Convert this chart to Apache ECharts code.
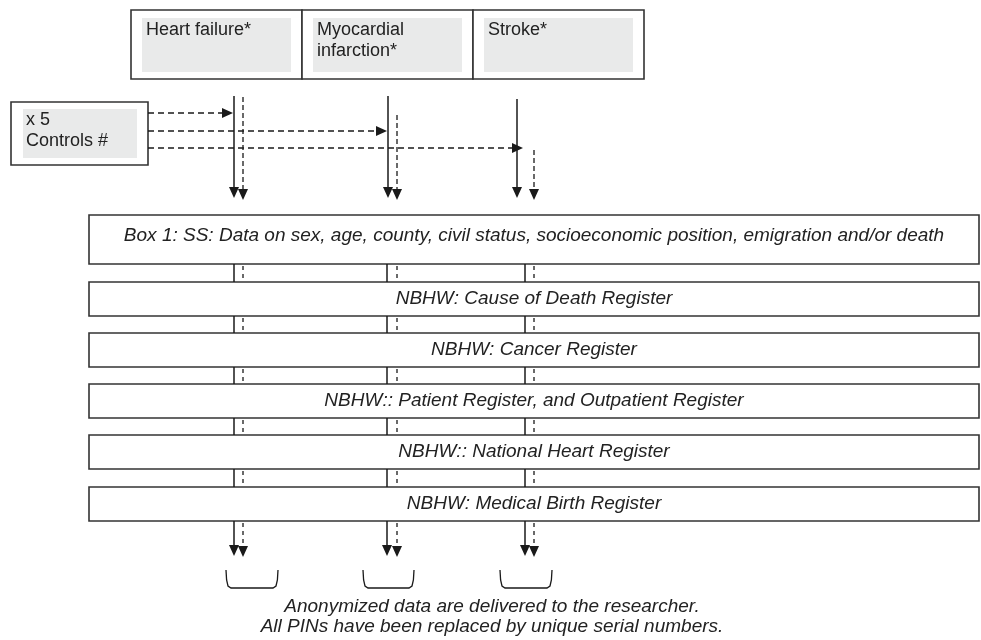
<!DOCTYPE html>
<html><head><meta charset="utf-8">
<script src="https://cdn.jsdelivr.net/npm/echarts@6/dist/echarts.min.js"></script>
<style>html,body{margin:0;padding:0;background:#fff}#chart{width:981px;height:640px}</style>
</head><body><div id="chart"></div>
<script>
// ---------- data ----------
const outcomes = ['Heart failure*', 'Myocardial\ninfarction*', 'Stroke*'];
const controlsLabel = ['x 5', 'Controls #'];
const registers = [
  'Box 1: SS: Data on sex, age, county, civil status, socioeconomic position, emigration and/or death',
  'NBHW: Cause of Death Register',
  'NBHW: Cancer Register',
  'NBHW:: Patient Register, and Outpatient Register',
  'NBHW:: National Heart Register',
  'NBHW: Medical Birth Register'
];
const footnote = [
  'Anonymized data are delivered to the researcher.',
  'All PINs have been replaced by unique serial numbers.'
];

// ---------- layout (diagram units on a 981 x 640 value grid) ----------
const LAYOUT = {
  top: { x: 131, y0: 10, y1: 79, cellW: 171, grayDx0: 11, grayDx1: 160, grayY0: 18, grayY1: 72, textDx: 15, textY: 30.5, lineH: 21 },
  ctrl: { x0: 11, x1: 148, y0: 102, y1: 165, gx0: 23, gx1: 137, gy0: 109, gy1: 158, textX: 26, textY: 120.5, lineH: 21 },
  ctrlRowsY: [113, 131, 148],
  ctrlTipX: [233, 387, 523],
  laneTopSolidX: [234, 388, 517],
  laneTopSolidY0: [96, 96, 99],
  laneTopDashX: [243, 397, 534],
  laneTopDashY0: [97, 115, 150],
  laneTipY: 200,
  laneSolidX: [234, 387, 525],
  laneDashX: [243, 397, 534],
  regX0: 89, regX1: 979, regTextX: 534,
  regY0: [215, 282, 333, 384, 435, 487],
  regY1: [264, 316, 367, 418, 469, 521],
  regTextY: [236, 299, 350, 401, 452, 504],
  outTipY: 557,
  brX0: [226, 363, 500], brX1: [278, 414, 552], brY0: 570, brY1: 588,
  footX: 492, footY: [606.5, 626.5]
};

const FONT = '"Liberation Sans", Arial, Helvetica, sans-serif';
const INK = '#1a1a1a';
const BOX = '#333333';
const GRAY = '#e9eaea';

function P(api, x, y) { return api.coord([x, y]); }
function rectEl(api, x0, y0, x1, y1, style) {
  const a = P(api, x0, y0), b = P(api, x1, y1);
  return { type: 'rect', shape: { x: a[0], y: a[1], width: b[0] - a[0], height: b[1] - a[1] }, style: style };
}
function lineEl(api, x0, y0, x1, y1, style) {
  const a = P(api, x0, y0), b = P(api, x1, y1);
  return { type: 'line', shape: { x1: a[0], y1: a[1], x2: b[0], y2: b[1] }, style: style };
}
function textEl(api, x, y, text, opts) {
  const a = P(api, x, y);
  return { type: 'text', style: Object.assign({ x: a[0], y: a[1], text: text, fill: '#222', font: '18px ' + FONT, align: 'left', verticalAlign: 'middle' }, opts || {}) };
}
function downHead(api, x, tipY) {
  const pts = [P(api, x - 5, tipY - 11), P(api, x + 5, tipY - 11), P(api, x, tipY)];
  return { type: 'polygon', shape: { points: pts }, style: { fill: INK } };
}
function rightHead(api, tipX, y) {
  const pts = [P(api, tipX - 11, y - 5), P(api, tipX - 11, y + 5), P(api, tipX, y)];
  return { type: 'polygon', shape: { points: pts }, style: { fill: INK } };
}
const SOLID = { stroke: INK, lineWidth: 1.5 };
const DASH_V = { stroke: INK, lineWidth: 1.3, lineDash: [5, 3] };
const DASH_H = { stroke: INK, lineWidth: 1.3, lineDash: [6, 4] };
const DASH_C = { stroke: INK, lineWidth: 1.3, lineDash: [4, 4] };

function idx(arr) { return arr.map(function (_, i) { return [i]; }); }

const series = [
  { // outcome cells on top
    type: 'custom', data: idx(outcomes),
    renderItem: function (p, api) {
      const i = api.value(0), T = LAYOUT.top, x0 = T.x + i * T.cellW, x1 = x0 + T.cellW;
      const ch = [
        rectEl(api, x0, T.y0, x1, T.y1, { fill: '#fff', stroke: BOX, lineWidth: 1.6 }),
        rectEl(api, x0 + T.grayDx0, T.grayY0, x0 + T.grayDx1, T.grayY1, { fill: GRAY })
      ];
      outcomes[i].split('\n').forEach(function (t, k) {
        ch.push(textEl(api, x0 + T.textDx, T.textY + k * T.lineH, t));
      });
      return { type: 'group', children: ch };
    }
  },
  { // controls box
    type: 'custom', data: [[0]],
    renderItem: function (p, api) {
      const C = LAYOUT.ctrl;
      const ch = [
        rectEl(api, C.x0, C.y0, C.x1, C.y1, { fill: '#fff', stroke: BOX, lineWidth: 1.6 }),
        rectEl(api, C.gx0, C.gy0, C.gx1, C.gy1, { fill: GRAY })
      ];
      controlsLabel.forEach(function (t, k) { ch.push(textEl(api, C.textX, C.textY + k * C.lineH, t)); });
      return { type: 'group', children: ch };
    }
  },
  { // lanes from outcomes down to box 1, plus control arrows
    type: 'custom', data: idx(outcomes),
    renderItem: function (p, api) {
      const i = api.value(0), L = LAYOUT;
      const tip = L.laneTipY;
      return { type: 'group', children: [
        lineEl(api, L.laneTopSolidX[i], L.laneTopSolidY0[i], L.laneTopSolidX[i], tip - 8, SOLID),
        downHead(api, L.laneTopSolidX[i], tip - 2),
        lineEl(api, L.laneTopDashX[i], L.laneTopDashY0[i], L.laneTopDashX[i], tip - 8, DASH_V),
        downHead(api, L.laneTopDashX[i], tip),
        lineEl(api, L.ctrl.x1, L.ctrlRowsY[i], L.ctrlTipX[i] - 8, L.ctrlRowsY[i], DASH_H),
        rightHead(api, L.ctrlTipX[i], L.ctrlRowsY[i])
      ] };
    }
  },
  { // register boxes + connectors between them
    type: 'custom', data: idx(registers),
    renderItem: function (p, api) {
      const i = api.value(0), L = LAYOUT;
      const ch = [
        rectEl(api, L.regX0, L.regY0[i], L.regX1, L.regY1[i], { fill: '#fff', stroke: BOX, lineWidth: 1.6 }),
        textEl(api, L.regTextX, L.regTextY[i], registers[i], { align: 'center', font: 'italic 19px ' + FONT })
      ];
      if (i > 0) {
        for (let k = 0; k < outcomes.length; k++) {
          ch.push(lineEl(api, L.laneSolidX[k], L.regY1[i - 1], L.laneSolidX[k], L.regY0[i], SOLID));
          ch.push(lineEl(api, L.laneDashX[k], L.regY1[i - 1] + 2, L.laneDashX[k], L.regY0[i], DASH_C));
        }
      }
      return { type: 'group', children: ch };
    }
  },
  { // output arrows and brackets
    type: 'custom', data: idx(outcomes),
    renderItem: function (p, api) {
      const i = api.value(0), L = LAYOUT, y0 = L.regY1[registers.length - 1], tip = L.outTipY;
      const bx0 = L.brX0[i], bx1 = L.brX1[i], by0 = L.brY0, by1 = L.brY1;
      const br = [[bx0, by0], [bx0 + 0.6, by0 + 10], [bx0 + 2, by1 - 2], [bx0 + 5, by1], [bx1 - 5, by1], [bx1 - 2, by1 - 2], [bx1 - 0.6, by0 + 10], [bx1, by0]]
        .map(function (q) { return P(api, q[0], q[1]); });
      return { type: 'group', children: [
        lineEl(api, L.laneSolidX[i], y0, L.laneSolidX[i], tip - 8, SOLID),
        downHead(api, L.laneSolidX[i], tip - 1),
        lineEl(api, L.laneDashX[i], y0 + 2, L.laneDashX[i], tip - 8, DASH_C),
        downHead(api, L.laneDashX[i], tip),
        { type: 'polyline', shape: { points: br }, style: { stroke: INK, lineWidth: 1.3, fill: null } }
      ] };
    }
  },
  { // footnote
    type: 'custom', data: idx(footnote),
    renderItem: function (p, api) {
      const i = api.value(0);
      return textEl(api, LAYOUT.footX, LAYOUT.footY[i], footnote[i], { align: 'center', font: 'italic 19px ' + FONT });
    }
  }
];
series.forEach(function (s) { s.coordinateSystem = 'cartesian2d'; s.silent = true; s.clip = false; });

const chart = echarts.init(document.getElementById('chart'), null, { renderer: 'canvas' });
chart.setOption({
  animation: false,
  backgroundColor: '#ffffff',
  grid: { left: 0, right: 0, top: 0, bottom: 0 },
  xAxis: { type: 'value', min: 0, max: 981, show: false },
  yAxis: { type: 'value', min: 0, max: 640, inverse: true, show: false },
  series: series
});
</script></body></html>
